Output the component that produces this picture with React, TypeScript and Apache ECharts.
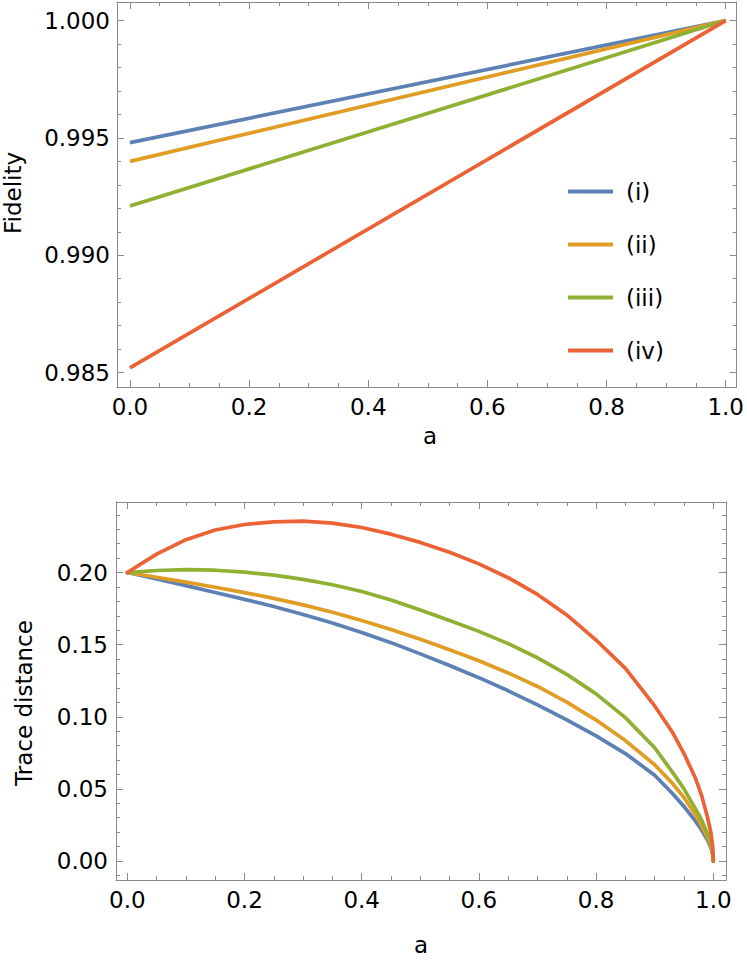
import React, { useEffect, useRef } from "react";
import * as echarts from "echarts";

// ---------- data ----------
const seriesNames = ["(i)", "(ii)", "(iii)", "(iv)"];
const colors = ["#5e81b5", "#e19c24", "#8fb032", "#eb6235"];

// Fidelity (linear from a=0 to a=1)
const fidA = [0, 1];
const fidI = [0.9948, 1.0];
const fidII = [0.994, 1.0];
const fidIII = [0.9921, 1.0];
const fidIV = [0.9852, 1.0];

// Trace distance
const trA = [0, 0.05, 0.1, 0.15, 0.2, 0.25, 0.3, 0.35, 0.4, 0.45, 0.5, 0.55, 0.6, 0.65, 0.7, 0.75, 0.8, 0.85, 0.9, 0.93, 0.95, 0.97, 0.98, 0.99, 0.996, 0.999, 1];
const trI = [0.2, 0.1955, 0.1909, 0.1862, 0.1814, 0.1764, 0.1709, 0.165, 0.1585, 0.1514, 0.1436, 0.1356, 0.1271, 0.118, 0.1082, 0.0978, 0.0867, 0.0745, 0.0595, 0.047, 0.0378, 0.0275, 0.0215, 0.0145, 0.009, 0.0046, 0];
const trII = [0.2, 0.1967, 0.1933, 0.1898, 0.1861, 0.1821, 0.1776, 0.1725, 0.1668, 0.1605, 0.1537, 0.1465, 0.1388, 0.1304, 0.121, 0.1102, 0.0977, 0.0835, 0.0667, 0.054, 0.044, 0.0318, 0.0245, 0.0163, 0.0102, 0.0052, 0];
const trIII = [0.2, 0.2014, 0.202, 0.2016, 0.2003, 0.1982, 0.1953, 0.1915, 0.1868, 0.181, 0.174, 0.1668, 0.1592, 0.1507, 0.1409, 0.1294, 0.1159, 0.0994, 0.0785, 0.0618, 0.05, 0.036, 0.0285, 0.019, 0.0118, 0.006, 0];
const trIV = [0.2, 0.2128, 0.2228, 0.2295, 0.2333, 0.2351, 0.2356, 0.2343, 0.2312, 0.2266, 0.2209, 0.2141, 0.206, 0.1964, 0.1848, 0.1706, 0.1532, 0.1335, 0.1075, 0.0895, 0.0745, 0.057, 0.0455, 0.0305, 0.0195, 0.01, 0];

// ticks
const xMajor = [0, 0.2, 0.4, 0.6, 0.8, 1.0];
const xMinor = [0.05, 0.1, 0.15, 0.25, 0.3, 0.35, 0.45, 0.5, 0.55, 0.65, 0.7, 0.75, 0.85, 0.9, 0.95];
const fidMajor = [0.985, 0.99, 0.995, 1.0];
const fidMinor = [0.986, 0.987, 0.988, 0.989, 0.991, 0.992, 0.993, 0.994, 0.996, 0.997, 0.998, 0.999];
const trMajor = [0, 0.05, 0.1, 0.15, 0.2];
const trMinor = [-0.01, 0.01, 0.02, 0.03, 0.04, 0.06, 0.07, 0.08, 0.09, 0.11, 0.12, 0.13, 0.14, 0.16, 0.17, 0.18, 0.19, 0.21, 0.22, 0.23, 0.24];

const FRAME = "#8a8a8a";
const FONT = "DejaVu Sans";
const FS = 23;

function zip(xs: number[], ys: number[]) {
  return xs.map((x, i) => [x, ys[i]]);
}

function axisSet(
  dim: "x" | "y",
  gridIndex: number,
  min: number,
  max: number,
  major: number[],
  minor: number[],
  digits: number,
  labelMargin: number
) {
  const main = dim === "x" ? "bottom" : "left";
  const opp = dim === "x" ? "top" : "right";
  const base = {
    type: "value",
    gridIndex,
    min,
    max,
    splitLine: { show: false },
    axisPointer: { show: false },
  };
  return [
    {
      ...base,
      position: main,
      axisLine: { show: true, onZero: false, lineStyle: { color: FRAME, width: 1 } },
      axisTick: { show: true, inside: true, length: 7, customValues: major, lineStyle: { color: FRAME, width: 1 } },
      axisLabel: {
        show: true,
        customValues: major,
        margin: labelMargin,
        formatter: (v: number) => v.toFixed(digits),
        color: "#000",
        fontFamily: FONT,
        fontSize: FS,
      },
    },
    {
      ...base,
      position: main,
      axisLine: { show: false, onZero: false },
      axisTick: { show: true, inside: true, length: 4, customValues: minor, lineStyle: { color: FRAME, width: 1 } },
      axisLabel: { show: false },
    },
    {
      ...base,
      position: opp,
      axisLine: { show: true, onZero: false, lineStyle: { color: FRAME, width: 1 } },
      axisTick: { show: true, inside: true, length: 7, customValues: major, lineStyle: { color: FRAME, width: 1 } },
      axisLabel: { show: false },
    },
    {
      ...base,
      position: opp,
      axisLine: { show: false, onZero: false },
      axisTick: { show: true, inside: true, length: 4, customValues: minor, lineStyle: { color: FRAME, width: 1 } },
      axisLabel: { show: false },
    },
  ];
}

export default function App() {
  const ref = useRef<HTMLDivElement>(null);
  useEffect(() => {
    if (!ref.current) return;
    const chart = echarts.init(ref.current, undefined, { renderer: "svg" });

    const fidData = [fidI, fidII, fidIII, fidIV];
    const trData = [trI, trII, trIII, trIV];

    const series: any[] = [];
    seriesNames.forEach((name, i) => {
      series.push({
        type: "line",
        name,
        xAxisIndex: 0,
        yAxisIndex: 0,
        data: zip(fidA, fidData[i]),
        showSymbol: false,
        symbol: "none",
        itemStyle: { color: colors[i] },
        lineStyle: { color: colors[i], width: 3.7 },
        z: 2 + i,
      });
    });
    seriesNames.forEach((name, i) => {
      series.push({
        type: "line",
        name,
        xAxisIndex: 4,
        yAxisIndex: 4,
        data: zip(trA, trData[i]),
        showSymbol: false,
        symbol: "none",
        smooth: false,
        itemStyle: { color: colors[i] },
        lineStyle: { color: colors[i], width: 3.7, join: "round", cap: "round" },
        z: 2 + i,
      });
    });

    const option: any = {
      animation: false,
      backgroundColor: "#fff",
      grid: [
        { left: 117, top: 2, width: 624, height: 385, containLabel: false },
        { left: 116, top: 502, width: 610, height: 378, containLabel: false },
      ],
      xAxis: [
        ...axisSet("x", 0, -0.02167, 1.01833, xMajor, xMinor, 1, 8),
        ...axisSet("x", 1, -0.0193, 1.0217, xMajor, xMinor, 1, 8),
      ],
      yAxis: [
        ...axisSet("y", 0, 0.984386, 1.000793, fidMajor, fidMinor, 3, 7),
        ...axisSet("y", 1, -0.01317, 0.2489, trMajor, trMinor, 2, 8),
      ],
      legend: {
        show: true,
        orient: "vertical",
        left: 563,
        top: 175,
        itemGap: 30,
        itemWidth: 45,
        itemHeight: 4,
        icon: "rect",
        data: seriesNames,
        textStyle: { fontFamily: FONT, fontSize: FS, color: "#000", padding: [0, 0, 0, 8] },
        selectedMode: false,
      },
      graphic: [
        {
          type: "text",
          x: 12.5,
          y: 193,
          rotation: Math.PI / 2,
          style: { text: "Fidelity", fontFamily: FONT, fontSize: FS, fill: "#000", textAlign: "center", textVerticalAlign: "middle" },
        },
        {
          type: "text",
          x: 24,
          y: 703,
          rotation: Math.PI / 2,
          style: { text: "Trace distance", fontFamily: FONT, fontSize: FS, fill: "#000", textAlign: "center", textVerticalAlign: "middle" },
        },
        {
          type: "text",
          x: 430,
          y: 436,
          style: { text: "a", fontFamily: FONT, fontSize: FS, fill: "#000", textAlign: "center", textVerticalAlign: "middle" },
        },
        {
          type: "text",
          x: 421,
          y: 945,
          style: { text: "a", fontFamily: FONT, fontSize: FS, fill: "#000", textAlign: "center", textVerticalAlign: "middle" },
        },
      ],
      series,
    };
    chart.setOption(option);
    return () => chart.dispose();
  }, []);
  return <div ref={ref} style={{ position: "absolute", left: 0, top: 0, width: 747, height: 961 }} />;
}
